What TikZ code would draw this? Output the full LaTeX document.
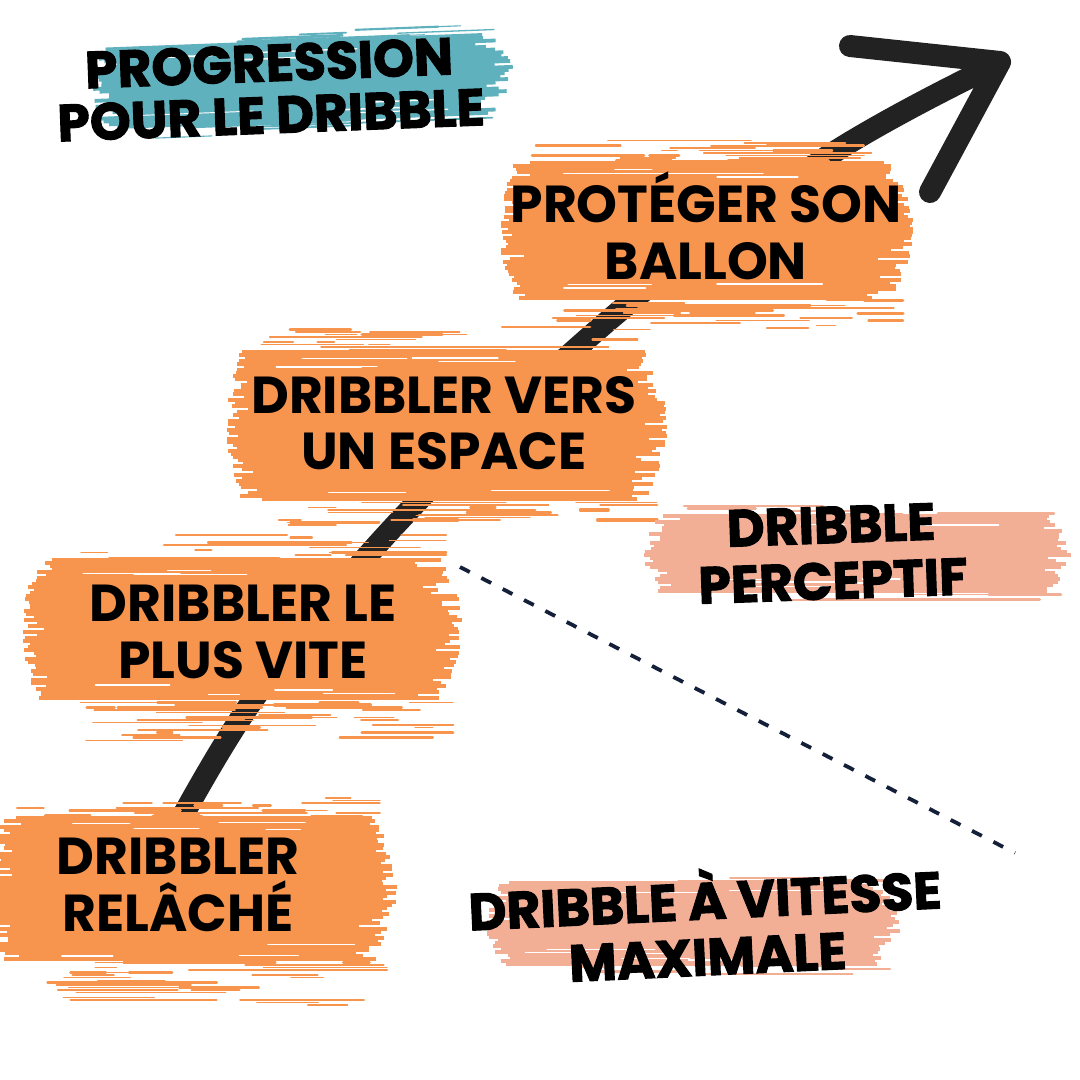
\documentclass[tikz,border=0pt]{standalone}
\usepackage{fontspec}
\setmainfont{Poppins}
\newfontfamily\heavyfont{Poppins}[BoldFeatures={FakeBold=2}]
\definecolor{brushorange}{HTML}{F7944D}
\definecolor{brushpink}{HTML}{F2AF96}
\definecolor{brushteal}{HTML}{5FB1BE}
\definecolor{arrowgray}{HTML}{222222}
\definecolor{dashnavy}{HTML}{14203A}

% #1 colour, #2 x left, #3 x right, #4 y core top, #5 y core bottom,
% #6 top fringe height, #7 bottom fringe height, #8 seed
\newcommand\brushpaint[8]{%
  \pgfmathsetseed{#8}%
  \pgfmathtruncatemacro\brN{(#5-#4)/3}%
  \foreach \k in {0,...,\brN}{%
    \pgfmathsetmacro\brY{#4+3*\k}%
    \pgfmathsetmacro\brT{\k/\brN}%
    \pgfmathsetmacro\brA{#2+28*rnd*rnd+14*(1-sin(180*\brT))-6}%
    \pgfmathsetmacro\brB{#3-34*rnd*rnd-22*(1-sin(180*\brT))+6}%
    \draw[#1, line width=3.8pt] (\brA,\brY) -- (\brB,\brY);
  }%
  \foreach \j in {1,...,7}{%
    \pgfmathsetmacro\brY{rnd<0.5 ? #4+4+12*rnd : #5-4-12*rnd}%
    \pgfmathsetmacro\brS{#2+30+(#3-#2-140)*rnd}%
    \pgfmathsetmacro\brL{30+90*rnd}%
    \pgfmathsetmacro\brW{0.8+1.0*rnd}%
    \draw[white, line width=\brW pt, line cap=round] (\brS,\brY) -- (\brS+\brL,\brY);
  }%
  \pgfmathtruncatemacro\brM{#6/2.5}%
  \foreach \k in {1,...,\brM}{%
    \pgfmathsetmacro\brY{#4-2.5*\k}%
    \foreach \j in {1,2,3,4}{%
      \pgfmathtruncatemacro\brOK{rnd<(0.85-0.55*\k/\brM)}%
      \pgfmathsetmacro\brS{#2+25+(#3-#2-70)*rnd}%
      \pgfmathsetmacro\brL{15+130*rnd}%
      \pgfmathsetmacro\brW{0.8+2.2*rnd}%
      \ifnum\brOK=1 \draw[#1, line width=\brW pt, line cap=round] (\brS,\brY) -- ({min(\brS+\brL,#3-12)},\brY);\fi
    }%
  }%
  \pgfmathtruncatemacro\brM{#7/2.5}%
  \foreach \k in {1,...,\brM}{%
    \pgfmathsetmacro\brY{#5+2.5*\k}%
    \foreach \j in {1,2,3,4}{%
      \pgfmathtruncatemacro\brOK{rnd<(0.85-0.55*\k/\brM)}%
      \pgfmathsetmacro\brS{#2+45+(#3-#2-80)*rnd}%
      \pgfmathsetmacro\brL{15+140*rnd}%
      \pgfmathsetmacro\brW{0.8+2.4*rnd}%
      \ifnum\brOK=1 \draw[#1, line width=\brW pt, line cap=round] (\brS,\brY) -- ({min(\brS+\brL,#3-5)},\brY);\fi
    }%
  }%
}

\begin{document}
\begin{tikzpicture}[x=1pt,y=-1pt,
  arrowline/.style={draw=arrowgray, line width=22pt, line cap=round, line join=round},
  dashline/.style={draw=dashnavy, line width=3.8pt, dash pattern=on 11pt off 13pt},
  stagetext/.style={font=\bfseries\fontsize{52}{56.5}\selectfont, align=center, inner sep=0pt, text=black},
  titletext/.style={font=\heavyfont\bfseries\fontsize{52}{52}\selectfont, align=center, inner sep=0pt, text=black},
  pinktext/.style={font=\heavyfont\bfseries\fontsize{52}{56}\selectfont, align=center, inner sep=0pt, text=black}]
\useasboundingbox (0,0) rectangle (1080,1080);
\fill[white] (0,0) rectangle (1080,1080);

% arrow
\coordinate (s0) at (160,858);
\coordinate (s1) at (253,700);
\coordinate (s2) at (400,520);
\coordinate (s3) at (609,320);
\coordinate (s4) at (822,160);
\coordinate (s5) at (985,70);
\coordinate (tip) at (1000,62);
\coordinate (h1) at (850,46);
\coordinate (h2) at (930,192);
\draw[arrowline, line cap=butt] plot[smooth, tension=0.6] coordinates {(s0) (s1) (s2) (s3) (s4) (s5)};
\draw[arrowline] (h1) -- (tip) -- (h2);

% dashed separator
\coordinate (d0) at (460,567);
\coordinate (d1) at (1015,853);
\draw[dashline] (d0) -- (d1);

% brushes
\begin{scope}[rotate around={2.2:(300,85)}]
\brushpaint{brushteal}{97}{508}{42}{120}{10}{14}{55}
\end{scope}
\brushpaint{brushorange}{505}{908}{163}{298}{24}{32}{11}
\brushpaint{brushorange}{232}{662}{352}{500}{26}{26}{22}
\brushpaint{brushorange}{28}{458}{560}{700}{25}{42}{33}
\brushpaint{brushorange}{-8}{392}{818}{960}{24}{45}{44}
\brushpaint{brushpink}{650}{1066}{516}{592}{10}{10}{66}
\brushpaint{brushpink}{492}{895}{883}{964}{8}{10}{77}

% texts
\node[titletext, rotate=2.2] (title) at (270,89) {PROGRESSION\\POUR LE DRIBBLE};
\node[stagetext] (st4) at (706,226) {PROTÉGER SON\\BALLON};
\node[stagetext] (st3) at (444,423) {DRIBBLER VERS\\UN ESPACE};
\node[stagetext] (st2) at (243,632) {DRIBBLER LE\\PLUS VITE};
\node[stagetext] (st1) at (178,885) {DRIBBLER\\RELÂCHÉ};
\node[pinktext, rotate=2] (pk1) at (832,553) {DRIBBLE\\PERCEPTIF};
\node[pinktext, rotate=2.7] (pk2) at (706,922) {DRIBBLE À VITESSE\\MAXIMALE};
\end{tikzpicture}
\end{document}
